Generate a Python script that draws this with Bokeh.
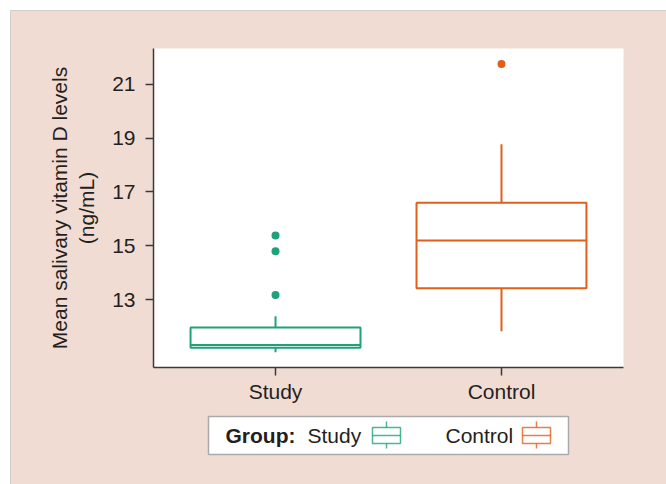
from bokeh.plotting import figure
from bokeh.layouts import column
from bokeh.models import Range1d, FixedTicker
from bokeh.core.properties import value
from bokeh.embed import file_html
from bokeh.resources import INLINE

# ---- data ----
groups = ["Study", "Control"]
positions = [1, 2]
colors = ["#1fa27a", "#e0601b"]
q1 = [11.21, 13.42]
median = [11.32, 15.20]
q3 = [11.97, 16.60]
whisker_low = [11.05, 11.83]
whisker_high = [12.38, 18.77]
outlier_x = [1, 1, 1, 2]
outlier_y = [15.38, 14.80, 13.17, 21.75]
outlier_colors = ["#1fa27a", "#1fa27a", "#1fa27a", "#e0601b"]
y_ticks = [13, 15, 17, 19, 21]

BG = "#f1dcd4"
TXT = "#231f20"
FONT = "Liberation Sans"
FS = "21px"
box_width = 0.752

p = figure(width=655, height=394, output_backend="svg", toolbar_location=None,
           x_range=Range1d(0.46, 2.54), y_range=Range1d(10.48, 22.33),
           min_border_left=142, min_border_right=43, min_border_top=37, min_border_bottom=37)
p.border_fill_color = BG
p.background_fill_color = "white"
p.outline_line_color = None
p.grid.visible = False

# boxes
p.vbar(x=positions, width=box_width, bottom=q1, top=q3, fill_color="white",
       line_color=colors, line_width=2)
# medians
left = [x - box_width / 2 for x in positions]
right = [x + box_width / 2 for x in positions]
p.segment(x0=left, x1=right, y0=median, y1=median, line_color=colors, line_width=2)
# whiskers
p.segment(x0=positions, x1=positions, y0=q3, y1=whisker_high, line_color=colors, line_width=2)
p.segment(x0=positions, x1=positions, y0=q1, y1=whisker_low, line_color=colors, line_width=2)
# outliers
p.scatter(x=outlier_x, y=outlier_y, size=8, color=outlier_colors, line_color=None)

for ax in (p.xaxis[0], p.yaxis[0]):
    ax.axis_line_color = "#3a3a3a"
    ax.axis_line_width = 1.5
    ax.major_tick_line_color = "#3a3a3a"
    ax.major_tick_line_width = 1.5
    ax.major_tick_in = 0
    ax.major_tick_out = 8
    ax.minor_tick_line_color = None
    ax.major_label_text_font = FONT
    ax.major_label_text_font_size = FS
    ax.major_label_text_color = TXT

p.xaxis.ticker = FixedTicker(ticks=positions)
p.xaxis.major_label_overrides = {pos: g for pos, g in zip(positions, groups)}
p.xaxis.major_label_standoff = 4

p.yaxis.ticker = FixedTicker(ticks=y_ticks)
p.yaxis.major_label_standoff = 10
p.yaxis.axis_label = "Mean salivary vitamin D levels\n(ng/mL)"
p.yaxis.axis_label_text_font = FONT
p.yaxis.axis_label_text_font_size = FS
p.yaxis.axis_label_text_font_style = "normal"
p.yaxis.axis_label_text_color = TXT
p.yaxis.axis_label_standoff = 11
p.yaxis.axis_label_text_line_height = 1.2

# ---- legend panel (decoration), drawn in pixel-like coordinates ----
leg = figure(width=655, height=79, output_backend="svg", toolbar_location=None,
             x_range=Range1d(0, 470), y_range=Range1d(0, 79),
             min_border_left=142, min_border_right=43, min_border_top=0, min_border_bottom=0)
leg.axis.visible = False
leg.grid.visible = False
leg.border_fill_color = BG
leg.background_fill_color = None
leg.outline_line_color = None

leg.quad(left=[55], right=[415], bottom=[30], top=[68], fill_color="white",
         line_color="#aaaaaa", line_width=1.5)

leg_label_x = [154, 292]
leg_icon_left = [219, 369]
leg_icon_right = [247, 397]
leg_icon_mid = [233, 383]

leg.text(x=[72], y=[49], text=["Group:"], text_font=value(FONT), text_font_size=FS,
         text_font_style="bold", text_baseline="middle", text_color=TXT)
leg.text(x=leg_label_x, y=[49, 49], text=groups, text_font=value(FONT), text_font_size=FS,
         text_baseline="middle", text_color=TXT)
leg.quad(left=leg_icon_left, right=leg_icon_right, bottom=[41, 41], top=[57, 57],
         fill_color="white", line_color=colors, line_width=1.5, line_alpha=0.8)
leg.segment(x0=leg_icon_left, x1=leg_icon_right, y0=[49, 49], y1=[49, 49],
            line_color=colors, line_width=1.5, line_alpha=0.8)
leg.segment(x0=leg_icon_mid, x1=leg_icon_mid, y0=[57, 57], y1=[63, 63],
            line_color=colors, line_width=1.5, line_alpha=0.8)
leg.segment(x0=leg_icon_mid, x1=leg_icon_mid, y0=[41, 41], y1=[36, 36],
            line_color=colors, line_width=1.5, line_alpha=0.8)

layout = column(p, leg, margin=(10, 0, 0, 10),
                styles={"border-top": "1px solid #cfcfcf", "border-left": "1px solid #cfcfcf",
                        "background-color": BG})

open("out.html", "w").write(file_html(layout, INLINE))
